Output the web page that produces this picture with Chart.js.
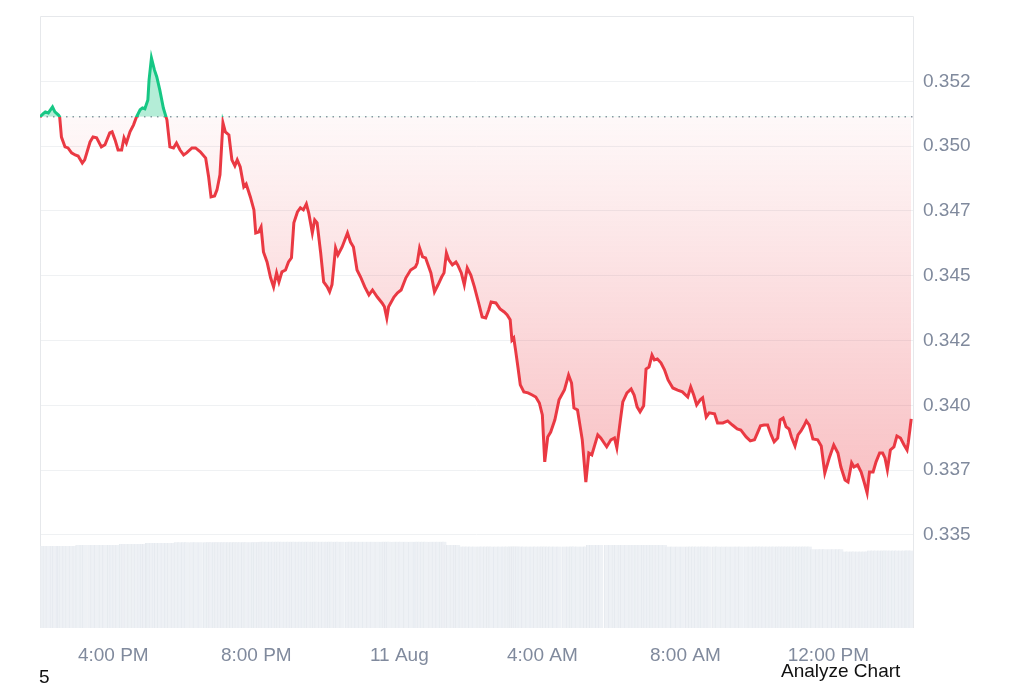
<!DOCTYPE html>
<html><head><meta charset="utf-8">
<script src="https://cdn.jsdelivr.net/npm/chart.js@4.4.1/dist/chart.umd.min.js"></script>
<style>
html,body{margin:0;padding:0;background:#fff;width:1024px;height:683px;overflow:hidden;}
#wrap{position:relative;width:1024px;height:683px;}
canvas{position:absolute;left:0;top:0;}
.t{position:absolute;font-family:"Liberation Sans",Arial,sans-serif;font-size:19px;line-height:19px;color:#111;white-space:nowrap;}
</style></head><body>
<div id="wrap"><canvas id="c" width="1024" height="683"></canvas>
<div class="t" style="left:39px;top:667px">5</div>
<div class="t" style="left:781px;top:661px">Analyze Chart</div>
</div>
<script>
// time in minutes since 10 Aug 00:00
const times = [
837,842,846,851,858,862,868,870,873,879,
884,890,896,901,908,912,921,926,932,940,
946,954,958,963,968,974,978,982,988,994,
999,1005,1009,1013,1018,1020,1024,1029,1033,1038,
1044,1050,1055,1061,1066,1072,1078,1083,1092,1098,
1106,1115,1120,1124,1130,1134,1139,1144,1148,1154,
1159,1164,1168,1173,1179,1183,1190,1196,1199,1204,
1208,1212,1218,1224,1229,1234,1238,1243,1249,1254,
1259,1263,1269,1274,1279,1284,1288,1294,1298,1302,
1308,1313,1319,1323,1327,1333,1337,1344,1353,1358,
1363,1369,1375,1382,1389,1395,1403,1411,1415,1419,
1422,1431,1437,1443,1451,1459,1467,1470,1474,1479,
1484,1493,1499,1505,1511,1515,1519,1523,1529,1535,
1538,1544,1549,1554,1560,1566,1574,1579,1585,1590,
1594,1602,1609,1616,1621,1626,1629,1632,1635,1639,
1643,1649,1656,1663,1669,1675,1680,1684,1689,1694,
1701,1708,1717,1724,1729,1733,1739,1747,1753,1758,
1763,1767,1773,1778,1788,1795,1801,1805,1811,1815,
1822,1829,1834,1839,1844,1850,1854,1859,1864,1868,
1873,1879,1885,1891,1899,1907,1915,1924,1929,1934,
1939,1945,1949,1955,1960,1969,1974,1983,1991,1999,
2007,2013,2022,2029,2036,2041,2046,2052,2058,2064,
2069,2075,2079,2084,2089,2094,2098,2104,2109,2114,
2119,2123,2128,2134,2142,2148,2154,2162,2169,2176,
2181,2188,2193,2199,2203,2209,2215,2220,2225,2229,
2235,2240,2246,2251,2255,2259,2264,2270,2275,2281,
2287,2292,2294,2299
];
const prices = [
0.35113,0.35124,0.35132,0.35128,0.35151,0.35132,0.35120,0.35113,0.35035,0.34997,
0.34993,0.34974,0.34966,0.34962,0.34935,0.34947,0.35016,0.35035,0.35032,0.34997,
0.35005,0.35051,0.35055,0.35024,0.34985,0.34985,0.35032,0.35012,0.35055,0.35082,
0.35113,0.35140,0.35147,0.35144,0.35178,0.35255,0.35340,0.35294,0.35267,0.35217,
0.35147,0.35101,0.34997,0.34993,0.35012,0.34985,0.34966,0.34974,0.34993,0.34993,
0.34978,0.34954,0.34881,0.34804,0.34808,0.34831,0.34889,0.35090,0.35055,0.35043,
0.34947,0.34924,0.34947,0.34920,0.34843,0.34854,0.34804,0.34754,0.34665,0.34669,
0.34688,0.34592,0.34553,0.34492,0.34457,0.34511,0.34476,0.34515,0.34522,0.34553,
0.34569,0.34704,0.34746,0.34762,0.34754,0.34777,0.34742,0.34665,0.34715,0.34704,
0.34588,0.34476,0.34457,0.34438,0.34465,0.34607,0.34580,0.34611,0.34665,0.34630,
0.34611,0.34522,0.34495,0.34457,0.34426,0.34445,0.34418,0.34395,0.34380,0.34337,
0.34380,0.34418,0.34434,0.34445,0.34492,0.34522,0.34534,0.34549,0.34607,0.34573,
0.34569,0.34511,0.34438,0.34465,0.34495,0.34511,0.34588,0.34561,0.34542,0.34553,
0.34542,0.34511,0.34465,0.34530,0.34503,0.34457,0.34387,0.34341,0.34337,0.34368,
0.34399,0.34395,0.34372,0.34360,0.34349,0.34330,0.34252,0.34260,0.34214,0.34148,
0.34079,0.34052,0.34048,0.34040,0.34032,0.34009,0.33963,0.33782,0.33878,0.33897,
0.33944,0.34021,0.34059,0.34117,0.34086,0.33990,0.33982,0.33867,0.33704,0.33816,
0.33809,0.33840,0.33886,0.33874,0.33840,0.33867,0.33874,0.33836,0.33944,0.34013,
0.34048,0.34063,0.34040,0.33994,0.33975,0.33998,0.34140,0.34148,0.34194,0.34175,
0.34179,0.34164,0.34137,0.34098,0.34067,0.34059,0.34052,0.34032,0.34071,0.34040,
0.34002,0.34021,0.34029,0.33955,0.33971,0.33967,0.33932,0.33932,0.33940,0.33924,
0.33909,0.33905,0.33878,0.33863,0.33867,0.33894,0.33921,0.33924,0.33924,0.33886,
0.33859,0.33874,0.33944,0.33951,0.33917,0.33909,0.33878,0.33843,0.33886,0.33901,
0.33921,0.33940,0.33924,0.33870,0.33867,0.33843,0.33739,0.33801,0.33847,0.33816,
0.33762,0.33712,0.33704,0.33778,0.33762,0.33770,0.33743,0.33704,0.33662,0.33743,
0.33743,0.33782,0.33816,0.33816,0.33797,0.33751,0.33828,0.33840,0.33882,0.33874,
0.33847,0.33828,0.33855,0.33948
];
// volume (millions USD, rolling), one per price point
const volumes = [
248,248,248,248,248,248,248,248,248,248,
248,248,248,251,251,251,251,251,251,251,
251,251,251,251,251,254,254,254,254,254,
254,254,254,254,257,257,257,257,257,257,
257,257,257,257,259,259,259,259,259,259,
259,259,259,259,259,259,259,259,259,259,
259,259,259,259,259,259,259,259,259,259,
261,261,261,261,261,261,261,261,261,261,
261,261,261,261,261,261,261,261,261,261,
261,261,261,261,261,261,261,261,261,261,
261,261,261,261,261,261,261,261,261,261,
261,261,261,261,261,261,261,261,261,261,
261,261,261,261,261,261,251,251,251,251,
251,246,246,246,246,246,246,246,246,246,
246,246,246,246,246,246,246,246,246,246,
246,246,246,246,246,246,246,246,246,246,
246,246,246,246,246,246,246,246,246,251,
251,251,251,251,251,251,251,251,251,251,
251,251,251,251,251,251,251,251,251,251,
251,251,251,246,246,246,246,246,246,246,
246,246,246,246,246,246,246,246,246,246,
246,246,246,246,246,246,246,246,246,246,
246,246,246,246,246,246,246,246,246,246,
246,246,246,238,238,238,238,238,238,238,
238,231,231,231,231,231,231,231,231,234,
234,234,234,234,234,234,234,234,234,234,
234,234,234,234
];
const xTickValues = [960,1200,1440,1680,1920,2160];
const xTickLabels = ["4:00 PM","8:00 PM","11 Aug","4:00 AM","8:00 AM","12:00 PM"];
const yTickValues = [0.335,0.3375,0.34,0.3425,0.345,0.3475,0.35,0.3525];
const yTickLabels = ["0.335","0.337","0.340","0.342","0.345","0.347","0.350","0.352"];

const openPrice = prices[0];
const X_MIN = 837, X_MAX = 2302, Y_MIN = 0.33141, Y_MAX = 0.35502, VOL_MAX = 1850;
const GREEN = '#16c784', RED = '#ea3943';
const minPrice = Math.min(...prices);

function lineColor(ctx){
  const c = ctx.chart, a = c.chartArea;
  if (!a || !c.scales.y) return RED;
  const yb = c.scales.y.getPixelForValue(openPrice);
  const r = Math.min(1, Math.max(0, (yb - a.top) / (a.bottom - a.top)));
  const g = c.ctx.createLinearGradient(0, a.top, 0, a.bottom);
  g.addColorStop(0, GREEN); g.addColorStop(r, GREEN);
  g.addColorStop(r, RED); g.addColorStop(1, RED);
  return g;
}
function belowFill(ctx){
  const c = ctx.chart, a = c.chartArea;
  if (!a || !c.scales.y) return 'rgba(234,57,67,0.1)';
  const y0 = c.scales.y.getPixelForValue(openPrice);
  const y1 = c.scales.y.getPixelForValue(minPrice);
  const g = c.ctx.createLinearGradient(0, y0, 0, y1);
  g.addColorStop(0, 'rgba(234,57,67,0.03)');
  g.addColorStop(1, 'rgba(234,57,67,0.32)');
  return g;
}

const framePlugin = {
  id: 'frame',
  beforeDatasetsDraw(chart){
    const {ctx, chartArea: a} = chart;
    ctx.save();
    ctx.strokeStyle = '#e6e8eb'; ctx.lineWidth = 1;
    ctx.beginPath();
    ctx.moveTo(a.left + 0.5, a.bottom);
    ctx.lineTo(a.left + 0.5, a.top + 0.5);
    ctx.lineTo(a.right + 0.5, a.top + 0.5);
    ctx.lineTo(a.right + 0.5, a.bottom);
    ctx.stroke();
    ctx.restore();
  }
};

const FONT = {family: '"Liberation Sans", Arial, sans-serif', size: 19};

new Chart(document.getElementById('c'), {
  type: 'line',
  data: {
    datasets: [
      {
        type: 'line',
        data: times.map((t, i) => ({x: t, y: prices[i]})),
        borderColor: lineColor,
        borderWidth: 3,
        backgroundColor: belowFill,
        fill: {target: {value: openPrice}, above: 'rgba(22,199,132,0.32)'},
        pointRadius: 0,
        tension: 0,
        yAxisID: 'y',
        order: 1
      },
      {
        type: 'line',
        data: [{x: X_MIN, y: openPrice}, {x: X_MAX, y: openPrice}],
        borderColor: '#8f96a3',
        borderWidth: 1.5,
        borderDash: [1.5, 5],
        pointRadius: 0,
        fill: false,
        yAxisID: 'y',
        order: 2
      },
      {
        type: 'bar',
        data: times.map((t, i) => ({x: t, y: volumes[i]})),
        backgroundColor: '#eef1f5',
        borderColor: '#e6eaef',
        borderWidth: {left: 1, right: 0, top: 0, bottom: 0},
        barThickness: 5,
        grouped: false,
        yAxisID: 'yv',
        order: 3
      }
    ]
  },
  options: {
    responsive: false,
    devicePixelRatio: 1,
    animation: false,
    layout: {padding: {left: 40, top: 16, right: 0, bottom: 0}},
    plugins: {legend: {display: false}, tooltip: {enabled: false}},
    scales: {
      x: {
        type: 'linear',
        offset: false,
        min: X_MIN, max: X_MAX,
        grid: {display: false, drawTicks: false, offset: false},
        border: {display: false},
        afterBuildTicks: s => { s.ticks = xTickValues.map(v => ({value: v})); },
        afterFit: s => { s.height = 55; s.paddingLeft = 0; s.paddingRight = 0; },
        ticks: {
          autoSkip: false, maxRotation: 0, padding: 16,
          color: '#808a9d', font: FONT,
          callback: v => xTickLabels[xTickValues.indexOf(v)]
        }
      },
      y: {
        type: 'linear',
        position: 'right',
        min: Y_MIN, max: Y_MAX,
        grid: {color: '#eff1f3', drawTicks: false, lineWidth: 1},
        border: {display: false},
        afterBuildTicks: s => { s.ticks = yTickValues.map(v => ({value: v})); },
        afterFit: s => { s.width = 111; s.paddingTop = 0; s.paddingBottom = 0; },
        ticks: {
          padding: 10, color: '#808a9d', font: FONT,
          callback: v => { const i = yTickValues.findIndex(t => Math.abs(t - v) < 1e-7); return i >= 0 ? yTickLabels[i] : ''; }
        }
      },
      yv: {
        type: 'linear', display: false, min: 0, max: VOL_MAX
      }
    }
  },
  plugins: [framePlugin]
});
</script>
</body></html>
